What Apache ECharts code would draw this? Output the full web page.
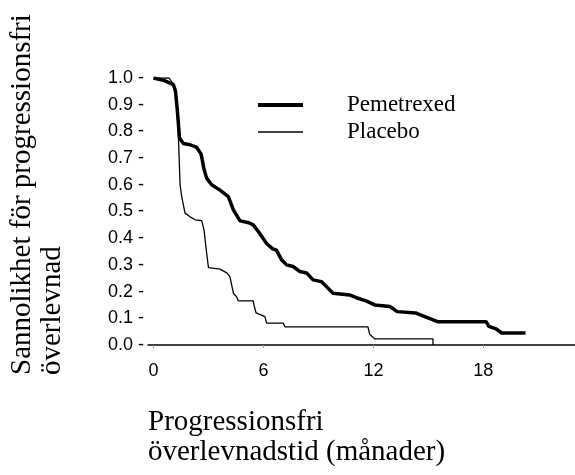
<!DOCTYPE html>
<html>
<head>
<meta charset="utf-8">
<script src="https://cdn.jsdelivr.net/npm/echarts@6/dist/echarts.min.js"></script>
<style>
  html, body { margin: 0; padding: 0; background: #fff; }
  #container { width: 575px; height: 475px; }
</style>
</head>
<body>
<div id="container"></div>
<script>
var dom = document.getElementById('container');
var myChart = echarts.init(dom, null, { renderer: 'canvas' });

// Kaplan-Meier curves
var pemMonths = [0, 0.6, 1.09, 1.2, 1.3, 1.42, 1.63, 2.0, 2.36, 2.6, 2.75, 2.9, 3.17, 3.63, 4.08, 4.36, 4.72, 5.2, 5.44, 5.72, 6.17, 6.5, 6.7, 6.99, 7.26, 7.62, 7.99, 8.35, 8.71, 9.16, 9.8, 10.7, 11.16, 11.6, 12.07, 12.9, 13.3, 14.3, 14.8, 15.5, 18.15, 18.3, 18.7, 19.0, 20.3];
var pemSurv = [1.0, 0.99, 0.975, 0.95, 0.88, 0.775, 0.755, 0.75, 0.74, 0.715, 0.66, 0.625, 0.6, 0.58, 0.556, 0.506, 0.465, 0.458, 0.45, 0.425, 0.38, 0.36, 0.356, 0.319, 0.3, 0.294, 0.275, 0.27, 0.244, 0.2375, 0.194, 0.1875, 0.175, 0.165, 0.15, 0.144, 0.125, 0.12, 0.106, 0.0875, 0.0875, 0.07, 0.06, 0.045, 0.045];
var plaMonths = [0, 0.85, 1.1, 1.25, 1.35, 1.45, 1.54, 1.72, 2.0, 2.27, 2.63, 2.76, 2.9, 3.0, 3.63, 4.0, 4.17, 4.36, 4.54, 4.63, 5.44, 5.5, 5.6, 6.08, 6.17, 7.08, 7.17, 11.7, 11.8, 12.07, 15.25, 15.25];
var plaSurv = [1.0, 1.0, 0.975, 0.93, 0.8, 0.6, 0.556, 0.494, 0.48, 0.469, 0.466, 0.43, 0.344, 0.29, 0.284, 0.27, 0.256, 0.194, 0.18, 0.165, 0.165, 0.144, 0.12, 0.106, 0.082, 0.082, 0.068, 0.068, 0.04, 0.023, 0.023, 0];

var xTicks = [0, 6, 12, 18];
var seriesNames = ['Pemetrexed', 'Placebo'];

function pairs(xs, ys) {
  return xs.map(function (x, i) { return [x, ys[i]]; });
}

var serif = '"Liberation Serif", "Times New Roman", serif';
var sans = '"Liberation Sans", Arial, sans-serif';

// one legend per series so each icon can get its own line thickness
function legendFor(name, top, thickness) {
  return {
    data: [name],
    left: 258,
    top: top,
    padding: 0,
    icon: 'rect',
    itemWidth: 45,
    itemHeight: thickness,
    itemStyle: { color: '#000' },
    textStyle: {
      fontFamily: serif,
      fontSize: 23,
      color: '#000',
      lineHeight: 24,
      padding: [0, 0, 0, 39]
    }
  };
}

var option = {
  backgroundColor: '#fff',
  animation: false,
  grid: { left: 148, right: 0, top: 78, bottom: 130, containLabel: false },
  legend: [
    legendFor(seriesNames[0], 93, 4),
    legendFor(seriesNames[1], 120, 1.5)
  ],
  xAxis: {
    type: 'value',
    min: -0.3,
    max: 23,
    splitLine: { show: false },
    axisLine: { lineStyle: { color: '#000', width: 1.5 } },
    axisTick: { show: true, customValues: xTicks, length: 3, lineStyle: { color: '#999' } },
    axisLabel: { customValues: xTicks, margin: 17, fontFamily: sans, fontSize: 18, color: '#000' }
  },
  yAxis: {
    type: 'value',
    min: 0,
    max: 1,
    interval: 0.1,
    splitLine: { show: false },
    axisLine: { show: false },
    axisTick: { show: false },
    axisLabel: {
      margin: 4,
      fontFamily: sans,
      fontSize: 18,
      color: '#000',
      formatter: function (v) { return v.toFixed(1) + ' -'; }
    }
  },
  graphic: [
    {
      type: 'text',
      x: 7,
      y: 375,
      rotation: Math.PI / 2,
      style: {
        text: 'Sannolikhet för progressionsfri\növerlevnad',
        font: '29px ' + serif,
        fill: '#000',
        align: 'left',
        verticalAlign: 'top',
        lineHeight: 30
      }
    },
    {
      type: 'text',
      x: 148,
      y: 407,
      style: {
        text: 'Progressionsfri\növerlevnadstid (månader)',
        font: '29px ' + serif,
        fill: '#000',
        align: 'left',
        verticalAlign: 'top',
        lineHeight: 30
      }
    }
  ],
  series: [
    {
      name: seriesNames[0],
      type: 'line',
      symbol: 'none',
      data: pairs(pemMonths, pemSurv),
      lineStyle: { color: '#000', width: 3.5 },
      itemStyle: { color: '#000' }
    },
    {
      name: seriesNames[1],
      type: 'line',
      symbol: 'none',
      data: pairs(plaMonths, plaSurv),
      lineStyle: { color: '#000', width: 1.3 },
      itemStyle: { color: '#000' }
    }
  ]
};

myChart.setOption(option);
window.addEventListener('resize', myChart.resize);
</script>
</body>
</html>
